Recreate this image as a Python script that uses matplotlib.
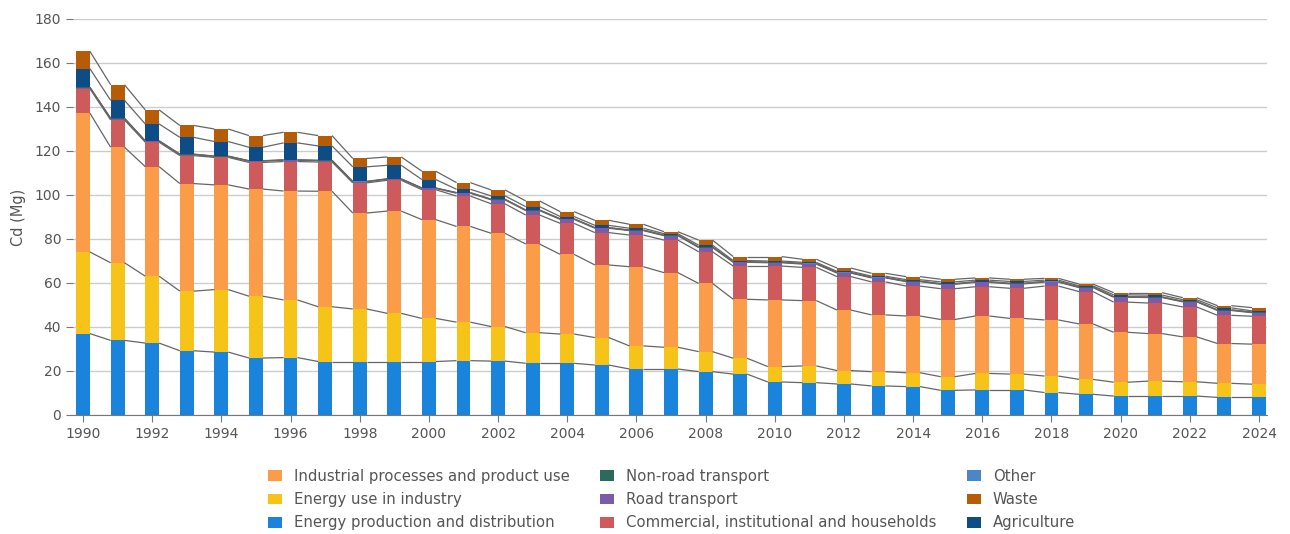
import matplotlib
matplotlib.use("Agg")
import matplotlib.pyplot as plt
from matplotlib.patches import Patch
import numpy as np

years = list(range(1990, 2025))

energy_production = [37.0, 33.9, 32.7, 29.2, 28.6, 25.9, 26.1, 24.3, 24.3, 24.3,
                     24.3, 24.7, 24.5, 23.5, 23.5, 22.7, 20.9, 20.9, 19.7, 18.6,
                     15.0, 14.7, 14.1, 13.2, 12.9, 11.2, 11.4, 11.4, 10.2, 9.4,
                     8.6, 8.6, 8.6, 8.0, 8.0]
energy_industry = [37.1, 35.3, 30.4, 27.1, 28.4, 28.1, 26.2, 24.9, 23.9, 21.9,
                   19.6, 17.5, 15.7, 13.9, 13.3, 12.5, 10.5, 9.9, 9.1, 7.2,
                   7.0, 7.6, 6.1, 6.5, 6.3, 6.2, 7.5, 7.2, 7.5, 6.8,
                   6.3, 6.8, 6.5, 6.4, 6.0]
industrial_processes = [63.1, 52.5, 49.8, 48.9, 47.6, 48.7, 49.5, 52.5, 43.6, 46.5,
                        44.9, 43.5, 42.4, 40.3, 36.2, 33.0, 36.0, 33.9, 31.0, 26.8,
                        30.3, 29.7, 27.5, 25.8, 25.8, 26.0, 26.1, 25.3, 25.5, 25.2,
                        22.7, 21.6, 20.4, 18.1, 18.2]
commercial = [11.1, 12.4, 11.1, 12.7, 12.5, 12.1, 13.4, 13.3, 13.7, 14.0,
              13.6, 13.8, 13.4, 13.2, 14.1, 14.7, 14.4, 14.8, 14.4, 15.1,
              15.4, 15.1, 15.2, 15.0, 13.6, 14.0, 13.3, 13.7, 15.4, 14.7,
              13.7, 13.9, 13.6, 12.8, 12.7]
road_transport = [0.5, 0.6, 0.5, 0.5, 0.4, 0.6, 0.6, 0.6, 0.5, 0.5,
                  0.6, 1.3, 1.8, 2.0, 1.8, 2.0, 2.0, 2.0, 1.9, 1.7,
                  1.5, 1.5, 1.6, 1.8, 2.0, 2.0, 2.0, 2.0, 1.8, 1.8,
                  2.2, 2.5, 2.3, 2.2, 1.6]
nonroad_transport = [0.1, 0.1, 0.1, 0.1, 0.1, 0.1, 0.1, 0.1, 0.1, 0.1,
                     0.1, 0.2, 0.2, 0.2, 0.2, 0.2, 0.2, 0.2, 0.2, 0.2,
                     0.2, 0.2, 0.2, 0.2, 0.2, 0.2, 0.2, 0.2, 0.2, 0.2,
                     0.2, 0.2, 0.2, 0.2, 0.2]
other = [0.1] * 35
agriculture = [8.4, 8.1, 7.6, 7.6, 6.6, 6.1, 7.7, 6.5, 6.6, 6.1,
               3.8, 1.5, 1.5, 1.5, 1.0, 1.0, 0.8, 0.6, 0.8, 0.5,
               0.5, 0.5, 0.5, 0.5, 0.6, 0.8, 0.7, 0.8, 0.6, 0.5,
               0.8, 0.8, 0.7, 0.9, 0.5]
waste = [7.9, 7.1, 6.4, 5.4, 5.7, 5.3, 4.8, 4.7, 3.8, 3.8,
         3.8, 3.0, 2.7, 2.6, 2.2, 2.3, 1.8, 0.9, 2.3, 1.8,
         2.0, 1.4, 1.5, 1.3, 1.4, 1.2, 1.0, 1.0, 0.8, 0.8,
         1.0, 1.1, 0.9, 1.0, 1.5]

# stacking order bottom -> top
series = [
    ("Energy production and distribution", energy_production, "#1a84dc"),
    ("Energy use in industry", energy_industry, "#f6c419"),
    ("Industrial processes and product use", industrial_processes, "#fb9c48"),
    ("Commercial, institutional and households", commercial, "#cf5a5c"),
    ("Road transport", road_transport, "#7b5ca8"),
    ("Non-road transport", nonroad_transport, "#2c6a5c"),
    ("Other", other, "#4a86c8"),
    ("Agriculture", agriculture, "#0e4c86"),
    ("Waste", waste, "#b65b06"),
]

fig = plt.figure(figsize=(12.9, 5.34), dpi=100)
ax = fig.add_axes([73 / 1290, (534 - 415) / 534, (1267 - 73) / 1290, (415 - 19) / 534])

x = np.array(years, dtype=float)
w = 0.4
bottom = np.zeros(len(years))
handles = {}
for name, vals, col in series:
    v = np.array(vals)
    ax.bar(x, v, width=w, bottom=bottom, color=col, linewidth=0, zorder=3)
    handles[name] = Patch(facecolor=col, edgecolor="none")
    bottom = bottom + v
    # series lines connecting bar tops across the gaps
    for i in range(len(years) - 1):
        ax.plot([x[i] + w / 2, x[i + 1] - w / 2], [bottom[i], bottom[i + 1]],
                color="#666666", linewidth=0.9, zorder=4, solid_capstyle="butt")

ax.set_xlim(1990 - 10 / 34.6, 2024 + 8 / 34.6)
ax.set_ylim(0, 180)
ax.set_yticks(range(0, 181, 20))
ax.set_xticks(range(1990, 2025, 2))
ax.yaxis.grid(True, color="#cccccc", linewidth=1.0, zorder=0)
ax.set_axisbelow(True)
for s in ["top", "right", "left"]:
    ax.spines[s].set_visible(False)
ax.spines["bottom"].set_color("#777777")
ax.tick_params(axis="both", colors="#777777", labelcolor="#555555", labelsize=10, length=5)
ax.set_ylabel("Cd (Mg)", color="#555555", fontsize=10.5, labelpad=6)

legend_kw = dict(frameon=False, fontsize=10.7, handlelength=0.95, handleheight=0.75,
                 handletextpad=0.78, labelspacing=0.55, labelcolor="#555555",
                 borderaxespad=0, borderpad=0, loc="upper left")
cols = [
    ["Industrial processes and product use", "Energy use in industry", "Energy production and distribution"],
    ["Non-road transport", "Road transport", "Commercial, institutional and households"],
    ["Other", "Waste", "Agriculture"],
]
xpos = [268 / 1290, 600 / 1290, 967 / 1290]
for cnames, xp in zip(cols, xpos):
    fig.legend([handles[n] for n in cnames], cnames,
               bbox_to_anchor=(xp, 1 - 469 / 534), **legend_kw)

fig.savefig("out.png", dpi=100)
